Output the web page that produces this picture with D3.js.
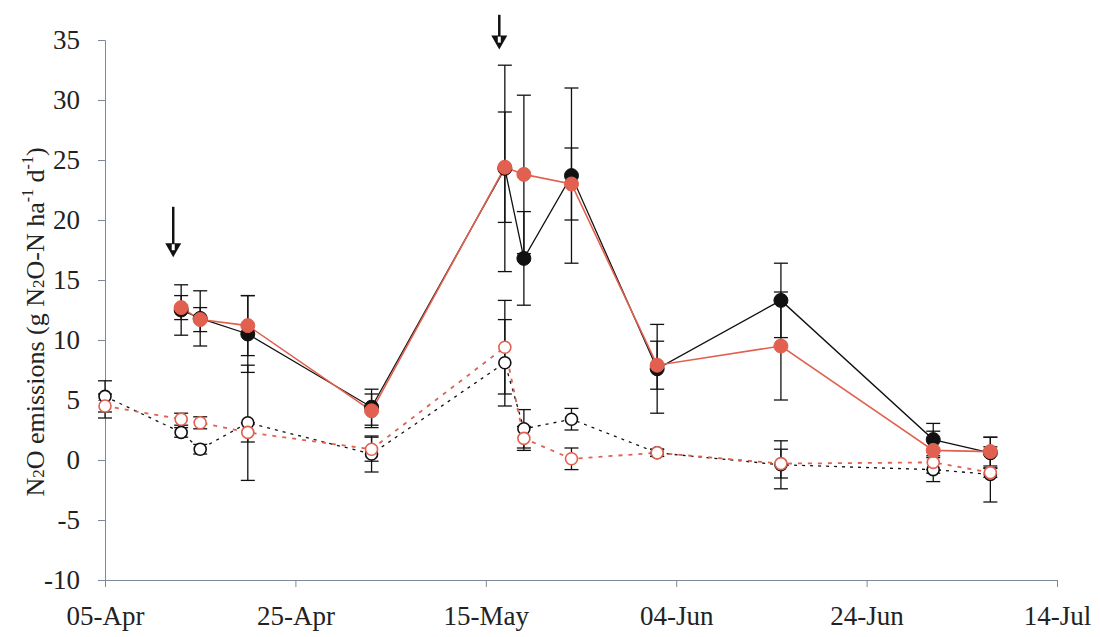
<!DOCTYPE html>
<html>
<head>
<meta charset="utf-8">
<script src="https://cdn.jsdelivr.net/npm/d3@7/dist/d3.min.js"></script>
<style>
  html, body { margin: 0; padding: 0; background: #fff; }
  svg { display: block; font-family: "Liberation Serif", "DejaVu Serif", serif; }
</style>
</head>
<body>
<svg id="chart" width="1100" height="637"></svg>
<script>
// sampling dates
const dates = ["2005-04-05", "2005-04-13", "2005-04-15", "2005-04-20", "2005-05-03", "2005-05-17",
  "2005-05-19", "2005-05-24", "2005-06-02", "2005-06-15", "2005-07-01", "2005-07-07"];

// filled black (solid line)
const blackFilled = [null, 12.5, 11.8, 10.5, 4.4, 24.3, 16.8, 23.7, 7.6, 13.3, 1.7, 0.6];
const blackFilledErr = [null, 2.1, 2.3, 3.2, 1.5, 8.6, 3.9, 7.3, 3.7, 3.1, 1.35, 1.3];
// filled red (solid line)
const redFilled = [null, 12.7, 11.7, 11.2, 4.1, 24.4, 23.8, 23.0, 7.9, 9.5, 0.8, 0.7];
const redFilledErr = [null, 1.0, 1.0, 2.5, 1.4, 4.6, 6.6, 3.0, 2.0, 4.5, 1.6, 1.2];
// open black (dotted line)
const blackOpen = [5.3, 2.3, 0.9, 3.1, 0.5, 8.1, 2.6, 3.4, 0.6, -0.4, -0.8, -1.2];
const blackOpenErr = [1.3, 0.4, 0.4, 4.8, 1.5, 3.6, 1.6, 0.9, 0.3, 2.0, 1.0, 2.3];
// open red (dotted line)
const redOpen = [4.5, 3.4, 3.1, 2.3, 0.9, 9.4, 1.8, 0.1, 0.6, -0.3, -0.2, -1.05];
const redOpenErr = [1.0, 0.5, 0.5, 0.8, 1.0, 3.9, 1.0, 0.9, 0.3, 1.2, 0.9, 0.4];

// fertiliser arrows: date, value at the top of the shaft, value at the tip
const arrowDates = ["2005-04-12T04:00", "2005-05-16T10:00"];
const arrowTops = [21.1, 37.1];
const arrowTips = [16.9, 34.2];

const xTicks = ["2005-04-05", "2005-04-25", "2005-05-15", "2005-06-04", "2005-06-24", "2005-07-14"];
const yTicks = [-10, -5, 0, 5, 10, 15, 20, 25, 30, 35];

const RED = "#e2604f";
const AXIS = "#7d8a96";

const width = 1100, height = 637;
const margin = { top: 40, right: 43, bottom: 57, left: 105 };

const parse = s => new Date(s + (s.length > 10 ? ":00Z" : "T00:00:00Z"));

const svg = d3.select("#chart");

const x = d3.scaleUtc()
  .domain([parse(xTicks[0]), parse(xTicks[xTicks.length - 1])])
  .range([margin.left, width - margin.right]);

const y = d3.scaleLinear()
  .domain([-10, 35])
  .range([height - margin.bottom, margin.top]);

// axes
const xAxis = svg.append("g")
  .attr("transform", `translate(0,${y(-10)})`)
  .call(d3.axisBottom(x)
    .tickValues(xTicks.map(parse))
    .tickFormat(d3.utcFormat("%d-%b"))
    .tickSize(7)
    .tickPadding(19));
xAxis.select(".domain").attr("stroke", AXIS);
xAxis.selectAll(".tick line").attr("stroke", AXIS);
xAxis.selectAll("text").attr("font-size", 27).attr("fill", "#222")
  .attr("font-family", "Liberation Serif");

const yAxis = svg.append("g")
  .attr("transform", `translate(${margin.left},0)`)
  .call(d3.axisLeft(y)
    .tickValues(yTicks)
    .tickFormat(d => String(d))
    .tickSize(7)
    .tickPadding(18));
yAxis.select(".domain").attr("stroke", AXIS);
yAxis.selectAll(".tick line").attr("stroke", AXIS);
yAxis.selectAll("text").attr("font-size", 27).attr("fill", "#222")
  .attr("font-family", "Liberation Serif");

// y label
const ylab = svg.append("text")
  .attr("transform", `translate(44,${(margin.top + height - margin.bottom) / 2 + 12}) rotate(-90)`)
  .attr("text-anchor", "middle")
  .attr("font-size", 26)
  .attr("fill", "#222");
ylab.append("tspan").text("N");
ylab.append("tspan").attr("font-size", 17).text("2");
ylab.append("tspan").text("O emissions (g N");
ylab.append("tspan").attr("font-size", 17).text("2");
ylab.append("tspan").text("O-N ha");
ylab.append("tspan").attr("font-size", 16).attr("dy", -11).text("-1");
ylab.append("tspan").attr("dy", 11).text(" d");
ylab.append("tspan").attr("font-size", 16).attr("dy", -11).text("-1");
ylab.append("tspan").attr("dy", 11).text(")");

function toPoints(vals, errs) {
  return dates.map((d, i) => ({ date: parse(d), v: vals[i], e: errs[i] }))
    .filter(p => p.v !== null);
}

const series = [
  { key: "blackOpen", pts: toPoints(blackOpen, blackOpenErr), color: "#111", filled: false, dash: "3,5", lw: 1.3 },
  { key: "redOpen", pts: toPoints(redOpen, redOpenErr), color: RED, filled: false, dash: "4,6", lw: 1.8 },
  { key: "blackFilled", pts: toPoints(blackFilled, blackFilledErr), color: "#111", filled: true, dash: null, lw: 1.3 },
  { key: "redFilled", pts: toPoints(redFilled, redFilledErr), color: RED, filled: true, dash: null, lw: 1.6 }
];

// error bars (all black)
const capW = 7;
const eb = svg.append("g").attr("stroke", "#111").attr("stroke-width", 1.3).attr("fill", "none");
series.forEach(s => {
  s.pts.forEach(p => {
    const cx = x(p.date);
    const y1 = y(p.v + p.e), y2 = y(p.v - p.e);
    eb.append("line").attr("x1", cx).attr("x2", cx).attr("y1", y1).attr("y2", y2);
    eb.append("line").attr("x1", cx - capW).attr("x2", cx + capW).attr("y1", y1).attr("y2", y1);
    eb.append("line").attr("x1", cx - capW).attr("x2", cx + capW).attr("y1", y2).attr("y2", y2);
  });
});

const line = d3.line().x(p => x(p.date)).y(p => y(p.v));

series.forEach(s => {
  svg.append("path")
    .datum(s.pts)
    .attr("d", line)
    .attr("fill", "none")
    .attr("stroke", s.color)
    .attr("stroke-width", s.lw)
    .attr("stroke-dasharray", s.dash);
});

series.forEach(s => {
  svg.append("g").selectAll("circle")
    .data(s.pts)
    .join("circle")
    .attr("cx", p => x(p.date))
    .attr("cy", p => y(p.v))
    .attr("r", s.filled ? 7 : 6)
    .attr("fill", s.filled ? s.color : "#fff")
    .attr("stroke", s.color)
    .attr("stroke-width", s.filled ? 1 : 1.6);
});

// arrows: shaft plus solid head with a small white notch
arrowDates.forEach((d, i) => {
  const ax = x(parse(d));
  const tip = y(arrowTips[i]);
  const top = y(arrowTops[i]);
  const g = svg.append("g");
  g.append("line")
    .attr("x1", ax).attr("x2", ax)
    .attr("y1", top).attr("y2", tip - 12)
    .attr("stroke", "#111").attr("stroke-width", 2.5);
  g.append("path")
    .attr("d", `M${ax - 8},${tip - 14}L${ax + 8},${tip - 14}L${ax},${tip}Z`)
    .attr("fill", "#111");
  g.append("rect")
    .attr("x", ax - 1.5).attr("y", tip - 13)
    .attr("width", 3).attr("height", 6)
    .attr("fill", "#fff");
});
</script>
</body>
</html>
